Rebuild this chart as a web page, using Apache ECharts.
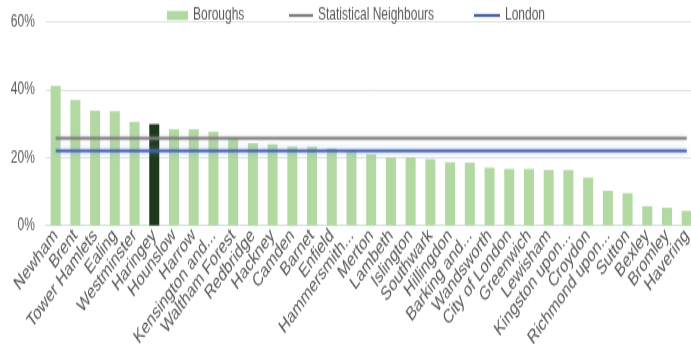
<!DOCTYPE html>
<html>
<head>
<meta charset="utf-8">
<script src="https://cdn.jsdelivr.net/npm/echarts@6/dist/echarts.min.js"></script>
<style>
  html, body { margin: 0; padding: 0; background: #fff; overflow: hidden; }
  #wrap { width: 691px; height: 348px; overflow: hidden; }
  #chart { width: 691px; height: 248px; transform: scaleY(1.4032); transform-origin: 0 0; }
</style>
</head>
<body>
<div id="wrap"><div id="chart"></div></div>
<script>
const categories = ['Newham', 'Brent', 'Tower Hamlets', 'Ealing', 'Westminster', 'Haringey', 'Hounslow', 'Harrow',
  'Kensington and...', 'Waltham Forest', 'Redbridge', 'Hackney', 'Camden', 'Barnet', 'Enfield', 'Hammersmith...',
  'Merton', 'Lambeth', 'Islington', 'Southwark', 'Hillingdon', 'Barking and...', 'Wandsworth', 'City of London',
  'Greenwich', 'Lewisham', 'Kingston upon...', 'Croydon', 'Richmond upon...', 'Sutton', 'Bexley', 'Bromley', 'Havering'];
const boroughValues = [41.0, 36.9, 33.8, 33.6, 30.5, 29.8, 28.3, 28.3, 27.6, 25.9, 24.2, 23.9, 23.2, 23.2, 22.7, 21.8,
  21.0, 20.1, 20.1, 19.5, 18.6, 18.5, 17.0, 16.6, 16.6, 16.3, 16.3, 14.1, 10.2, 9.5, 5.7, 5.2, 4.3];
const highlightBorough = 'Haringey';
const statisticalNeighbours = 25.7;
const londonValue = 22.0;
const yTicks = [0, 20, 40, 60];

const GREEN = '#b3d9a3';
const DARK = '#1e3a1d';
const GREY = '#7f7f7f';
const BLUE = '#4760a9';
const TXT = '#595959';

const barData = categories.map((c, i) => ({
  value: boroughValues[i],
  itemStyle: { color: c === highlightBorough ? DARK : GREEN }
}));

const chart = echarts.init(document.getElementById('chart'));
chart.setOption({
  animation: false,
  textStyle: { fontFamily: 'Liberation Sans, Arial, sans-serif' },
  legend: [
    { data: ['Boroughs'], left: 162, top: 0, itemWidth: 21, itemHeight: 6.5, itemGap: 5, icon: 'rect',
      textStyle: { color: TXT, fontSize: 12 } },
    { data: ['Statistical Neighbours'], left: 284, top: 0, itemWidth: 24, itemHeight: 2.2, itemGap: 3, icon: 'rect',
      textStyle: { color: TXT, fontSize: 12 } },
    { data: ['London'], left: 469, top: 0, itemWidth: 26, itemHeight: 2.2, itemGap: 3, icon: 'rect',
      textStyle: { color: TXT, fontSize: 12 } }
  ],
  grid: { left: 45.8, right: -5.6, top: 15.3, bottom: 87.3, containLabel: false, outerBoundsMode: 'none' },
  xAxis: {
    type: 'category',
    data: categories,
    axisLine: { show: true, lineStyle: { color: '#d9d9d9' } },
    axisTick: { show: false },
    axisLabel: { rotate: 45, interval: 0, margin: 5, color: TXT, fontSize: 14 }
  },
  yAxis: {
    type: 'value',
    min: yTicks[0],
    max: yTicks[yTicks.length - 1],
    interval: yTicks[1] - yTicks[0],
    axisLine: { show: false },
    axisTick: { show: false },
    axisLabel: { formatter: '{value}%', color: TXT, fontSize: 12, margin: 11 },
    splitLine: { lineStyle: { color: '#e3e3e3', width: 1 } }
  },
  series: [
    { name: 'Boroughs', type: 'bar', data: barData, barWidth: 10, itemStyle: { color: GREEN } },
    { name: 'Statistical Neighbours', type: 'line', data: categories.map(() => statisticalNeighbours),
      symbol: 'none', z: 5,
      lineStyle: { color: GREY, width: 2, shadowColor: 'rgba(160,160,160,0.5)', shadowBlur: 3 },
      itemStyle: { color: GREY } },
    { name: 'London', type: 'line', data: categories.map(() => londonValue),
      symbol: 'none', z: 5,
      lineStyle: { color: BLUE, width: 2, shadowColor: 'rgba(120,160,235,0.7)', shadowBlur: 4 },
      itemStyle: { color: BLUE } }
  ]
});
</script>
</body>
</html>
